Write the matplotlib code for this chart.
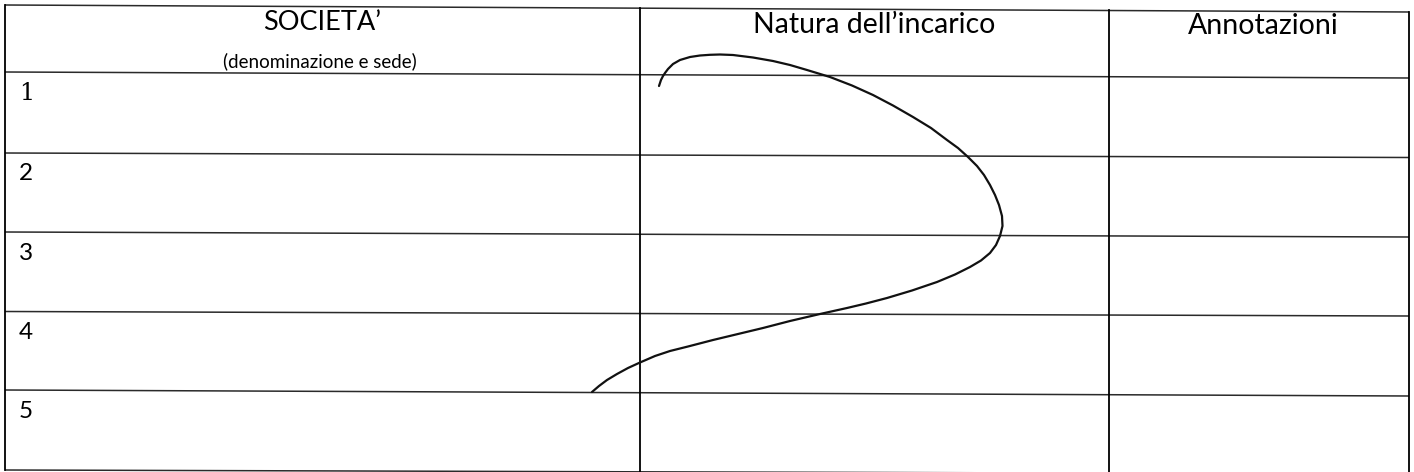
import matplotlib
matplotlib.use("Agg")
import matplotlib.pyplot as plt

# column headings and row numbers of the form
headers = ["SOCIETA\u2019", "Natura dell\u2019incarico", "Annotazioni"]
subheader = "(denominazione e sede)"
row_numbers = ["1", "2", "3", "4", "5"]

# ruled lines of the scanned sheet (pixel coords, y at left edge / right edge)
h_left = [5, 72, 153, 232, 311.5, 390, 470]
h_right = [12, 78, 157.5, 237, 316, 396, 474]
v_x = [5, 640, 1109, 1409]

# hand drawn stroke across the middle column
stroke_x = [659, 661, 663, 665, 668, 673, 680, 690, 700, 710, 720, 733, 753, 773, 790, 807,
            830, 852, 873, 893, 913, 931, 947, 958, 968, 977, 984, 990, 995, 999, 1002, 1002.5,
            1000, 996, 990, 981, 970, 955, 937, 912, 887, 866, 847, 820, 790, 763, 738, 713,
            688, 670, 655, 640, 628, 617, 607, 599, 592]
stroke_y = [86, 80, 76, 73, 69, 64, 60, 57, 55.5, 54.8, 54.5, 55, 57.5, 61, 65, 70,
            77, 85.5, 95, 105.5, 117, 128, 140, 148, 157, 166, 175, 185, 195, 205, 216, 226,
            236, 245, 253, 260.5, 267, 274.5, 282, 290.5, 298, 303.5, 308, 314, 321, 328, 334, 340,
            346.5, 351, 356, 362.5, 368, 374, 380, 386, 392]

W, H = 1414, 472
fig = plt.figure(figsize=(W / 100, H / 100), dpi=100)
ax = fig.add_axes([0, 0, 1, 1])
ax.set_xlim(0, W)
ax.set_ylim(H, 0)
ax.axis("off")

font = "Lato"

for yl, yr in zip(h_left, h_right):
    ax.plot([v_x[0], v_x[-1]], [yl, yr], color="#2a2a2a", lw=1.1, solid_capstyle="butt")

for x in v_x:
    top = h_left[0] + (h_right[0] - h_left[0]) * x / W
    bot = h_left[-1] + (h_right[-1] - h_left[-1]) * x / W
    ax.plot([x, x], [top, bot], color="black", lw=1.3)

# header texts
ax.text(322, 23, headers[0], ha="center", va="center", fontsize=19.5, family=font)
ax.text(320, 61, subheader, ha="center", va="center", fontsize=13.5, family=font)
ax.text(874, 25, headers[1], ha="center", va="center", fontsize=20.5, family=font)
ax.text(1263, 26, headers[2], ha="center", va="center", fontsize=20.5, family=font)

# row numbers
for i, lab in enumerate(row_numbers):
    y = h_left[i + 1] + 21
    if i == 0:
        ax.text(19, y, lab, ha="left", va="center", fontsize=17, family="DejaVu Serif")
    else:
        ax.text(19, y, lab, ha="left", va="center", fontsize=17.5, family=font)

ax.plot(stroke_x, stroke_y, color="#111111", lw=1.6, solid_capstyle="round",
        solid_joinstyle="round")

fig.savefig("out.png", dpi=100, facecolor="white")
